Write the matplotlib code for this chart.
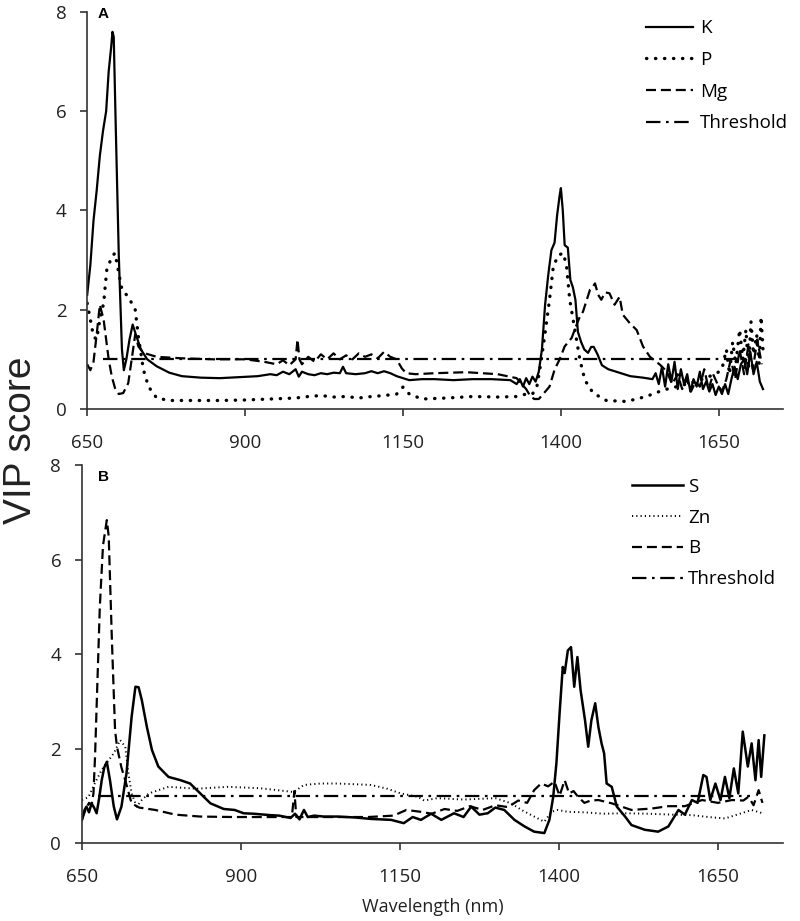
import matplotlib
matplotlib.use('Agg')
import matplotlib.pyplot as plt

# ---- panel A ----
k_wl = [650, 655, 660, 665, 670, 675, 680, 684, 688, 690, 692, 695, 700, 705, 708, 712, 717, 722, 727, 735,
        745, 760, 780, 800, 830, 860, 890, 920, 940, 950, 960, 970, 980, 985, 990, 1000, 1010, 1020, 1030, 1040,
        1050, 1055, 1060, 1075, 1090, 1100, 1110, 1120, 1130, 1140, 1150, 1160, 1180, 1200, 1230, 1260, 1290, 1320, 1330, 1335,
        1340, 1345, 1350, 1355, 1360, 1365, 1370, 1375, 1380, 1385, 1390, 1394, 1398, 1400, 1403, 1406, 1411, 1415, 1419, 1423,
        1427, 1432, 1437, 1443, 1448, 1452, 1458, 1465, 1475, 1490, 1510, 1530, 1545, 1550, 1555, 1560, 1565, 1570, 1575, 1580,
        1585, 1590, 1595, 1600, 1605, 1610, 1615, 1620, 1625, 1630, 1635, 1640, 1645, 1650, 1655, 1660, 1665, 1670, 1675, 1680,
        1685, 1690, 1695, 1700, 1705, 1710, 1715, 1720]
k_vip = [2.3, 2.9, 3.8, 4.4, 5.1, 5.6, 6.0, 6.8, 7.3, 7.6, 7.5, 5.8, 3.1, 1.2, 0.78, 1.0, 1.4, 1.7, 1.5, 1.2,
         1.0, 0.86, 0.73, 0.66, 0.63, 0.62, 0.64, 0.66, 0.7, 0.68, 0.75, 0.7, 0.8, 0.65, 0.75, 0.7, 0.68, 0.72, 0.7, 0.73,
         0.72, 0.85, 0.72, 0.7, 0.72, 0.76, 0.72, 0.76, 0.72, 0.66, 0.62, 0.58, 0.6, 0.6, 0.58, 0.6, 0.6, 0.58, 0.5, 0.6,
         0.45, 0.62, 0.5, 0.65, 0.55, 0.75, 1.2, 2.1, 2.7, 3.2, 3.35, 3.9, 4.3, 4.45, 4.0, 3.3, 3.25, 2.6, 2.45, 2.2,
         1.55, 1.35, 1.2, 1.13, 1.25, 1.25, 1.1, 0.88, 0.8, 0.74, 0.66, 0.63, 0.6, 0.72, 0.5, 0.85, 0.45, 0.9, 0.55, 0.95,
         0.4, 0.8, 0.5, 0.7, 0.35, 0.6, 0.45, 0.75, 0.4, 0.55, 0.35, 0.5, 0.28, 0.45, 0.3, 0.5, 0.3, 0.6, 0.85, 0.6,
         0.9, 1.0, 0.7, 1.15, 0.7, 0.95, 0.55, 0.4]

p_wl = [650, 655, 660, 665, 670, 676, 681, 689, 694, 700, 705, 715, 726, 731, 739, 747, 760, 780, 820, 860,
        900, 940, 980, 1000, 1020, 1040, 1060, 1080, 1100, 1120, 1140, 1150, 1160, 1180, 1220, 1260, 1300, 1330, 1345, 1355,
        1362, 1368, 1375, 1382, 1388, 1396, 1404, 1409, 1414, 1422, 1430, 1438, 1451, 1472, 1504, 1535, 1562, 1593, 1620, 1646,
        1655, 1662, 1667, 1672, 1677, 1683, 1688, 1693, 1697, 1701, 1705, 1710, 1714, 1717, 1720]
p_vip = [2.13, 1.8, 1.46, 1.4, 1.8, 2.13, 2.8, 3.07, 3.14, 2.74, 2.4, 2.26, 2.0, 1.46, 0.79, 0.45, 0.22, 0.17, 0.17, 0.17,
         0.18, 0.2, 0.22, 0.25, 0.27, 0.24, 0.25, 0.22, 0.25, 0.27, 0.3, 0.44, 0.3, 0.2, 0.22, 0.25, 0.24, 0.25, 0.3, 0.3,
         0.45, 0.9, 1.53, 2.2, 2.87, 3.1, 3.14, 2.87, 2.2, 1.6, 1.0, 0.58, 0.32, 0.17, 0.15, 0.25, 0.38, 0.48, 0.58, 0.71,
         0.8, 1.2, 0.7, 1.35, 0.9, 1.6, 1.0, 1.6, 0.8, 1.76, 1.1, 1.5, 0.9, 1.86, 1.2]

mg_wl = [650, 655, 660, 665, 670, 676, 679, 684, 689, 694, 700, 707, 715, 721, 726, 731, 739, 760, 800, 850,
         900, 930, 950, 960, 970, 980, 983, 986, 990, 1000, 1010, 1020, 1030, 1040, 1050, 1060, 1070, 1080, 1090, 1100,
         1110, 1120, 1130, 1140, 1148, 1155, 1170, 1200, 1250, 1300, 1330, 1345, 1352, 1358, 1365, 1372, 1382, 1390, 1398, 1406,
         1417, 1425, 1430, 1435, 1441, 1446, 1450, 1454, 1459, 1464, 1470, 1477, 1485, 1493, 1498, 1509, 1520, 1530, 1541, 1557,
         1568, 1576, 1585, 1592, 1599, 1606, 1613, 1620, 1627, 1634, 1641, 1648, 1655, 1662, 1669, 1676, 1683, 1690, 1697, 1704,
         1711, 1718]
mg_vip = [0.9, 0.78, 0.95, 1.5, 2.1, 1.8, 1.5, 1.0, 0.65, 0.42, 0.3, 0.32, 0.52, 1.05, 1.5, 1.26, 1.13, 1.05, 1.02, 1.0,
          1.0, 0.95, 0.9, 0.98, 0.88, 1.0, 1.4, 1.0, 0.9, 1.05, 0.95, 1.1, 1.0, 1.12, 1.0, 1.08, 1.0, 1.12, 1.05, 1.1,
          1.02, 1.15, 1.05, 1.0, 0.82, 0.72, 0.7, 0.72, 0.74, 0.7, 0.62, 0.4, 0.25, 0.2, 0.2, 0.3, 0.45, 0.79, 1.0, 1.26,
          1.43, 1.7, 1.86, 1.96, 2.2, 2.4, 2.45, 2.53, 2.3, 2.2, 2.35, 2.33, 2.1, 2.26, 1.9, 1.73, 1.59, 1.26, 1.05, 0.89,
          0.75, 0.5, 0.7, 0.4, 0.6, 0.35, 0.55, 0.45, 0.8, 0.4, 0.7, 0.5, 0.35, 0.6, 1.0, 0.6, 1.2, 0.7, 1.3, 0.8,
          1.4, 0.9]

# ---- panel B ----
s_wl = [650, 654, 657, 661, 665, 669, 673, 677, 681, 685, 689, 694, 700, 705, 712, 720, 728, 734, 739, 744,
        752, 760, 770, 786, 805, 820, 836, 852, 873, 890, 904, 920, 946, 960, 978, 985, 992, 999, 1005, 1015,
        1030, 1052, 1080, 1104, 1136, 1156, 1170, 1183, 1199, 1215, 1235, 1250, 1262, 1275, 1288, 1300, 1314, 1330, 1346, 1361,
        1377, 1385, 1391, 1396, 1401, 1406, 1409, 1414, 1419, 1424, 1429, 1434, 1441, 1446, 1451, 1457, 1462, 1467, 1471, 1475,
        1483, 1491, 1504, 1514, 1535, 1556, 1572, 1588, 1598, 1609, 1618, 1627, 1632, 1638, 1646, 1654, 1661, 1668, 1675, 1682,
        1689, 1697, 1703, 1709, 1714, 1718, 1723]
s_vip = [0.49, 0.7, 0.77, 0.65, 0.84, 0.75, 0.63, 0.95, 1.33, 1.6, 1.72, 1.33, 0.77, 0.5, 0.77, 1.48, 2.67, 3.31, 3.3, 3.03,
         2.46, 1.97, 1.62, 1.4, 1.33, 1.26, 1.05, 0.84, 0.72, 0.7, 0.63, 0.62, 0.59, 0.58, 0.53, 0.62, 0.5, 0.7, 0.55, 0.58,
         0.56, 0.56, 0.54, 0.51, 0.49, 0.42, 0.55, 0.49, 0.62, 0.49, 0.63, 0.55, 0.77, 0.6, 0.63, 0.75, 0.7, 0.49, 0.35, 0.24,
         0.21, 0.49, 0.98, 1.69, 2.75, 3.73, 3.6, 4.08, 4.15, 3.31, 3.94, 3.24, 2.6, 2.04, 2.6, 2.96, 2.46, 2.11, 1.9, 1.26,
         1.19, 0.77, 0.56, 0.38, 0.28, 0.24, 0.35, 0.7, 0.6, 0.91, 0.85, 1.44, 1.4, 0.91, 1.26, 0.91, 1.4, 0.95, 1.58, 1.05,
         2.36, 1.62, 2.11, 1.33, 2.18, 1.4, 2.28]

zn_wl = [650, 660, 670, 681, 689, 700, 710, 718, 723, 728, 736, 744, 755, 786, 830, 880, 930, 983, 999, 1025,
         1052, 1104, 1130, 1151, 1178, 1188, 1209, 1250, 1300, 1325, 1341, 1361, 1377, 1388, 1398, 1414, 1440, 1470, 1503, 1540,
         1580, 1609, 1635, 1661, 1680, 1703, 1720]
zn_vip = [0.91, 0.97, 1.26, 1.55, 1.7, 1.9, 2.18, 2.04, 1.48, 1.05, 0.77, 0.91, 1.05, 1.19, 1.15, 1.19, 1.16, 1.08, 1.23, 1.26,
          1.26, 1.23, 1.15, 1.05, 0.98, 0.9, 0.95, 0.92, 0.95, 0.84, 0.7, 0.56, 0.45, 0.66, 0.7, 0.66, 0.65, 0.62, 0.63, 0.62,
          0.6, 0.59, 0.55, 0.52, 0.6, 0.7, 0.63]

b_wl = [650, 656, 661, 665, 668, 670.5, 673, 678, 683, 689, 692, 697, 702, 705, 712, 718, 728, 740, 765, 797,
        836, 888, 940, 980, 984, 987, 990, 1020, 1060, 1100, 1140, 1160, 1183, 1200, 1220, 1240, 1260, 1280, 1300, 1320,
        1336, 1350, 1361, 1372, 1383, 1393, 1401, 1409, 1416, 1423, 1430, 1440, 1450, 1462, 1483, 1514, 1546, 1572, 1598, 1625,
        1650, 1672, 1690, 1698, 1706, 1714, 1720]
b_vip = [0.5, 0.72, 0.85, 0.8, 1.05, 1.83, 2.89, 5.0, 6.3, 6.84, 6.5, 4.3, 2.39, 2.04, 1.6, 1.33, 0.84, 0.75, 0.7, 0.6,
         0.56, 0.55, 0.55, 0.55, 1.1, 0.55, 0.55, 0.55, 0.55, 0.55, 0.58, 0.7, 0.66, 0.62, 0.72, 0.68, 0.78, 0.7, 0.8, 0.76,
         0.9, 0.85, 1.12, 1.26, 1.2, 1.3, 1.0, 1.33, 1.05, 1.1, 0.98, 0.85, 0.9, 0.91, 0.84, 0.7, 0.73, 0.78, 0.78, 0.91,
         0.85, 0.91, 0.9, 0.98, 0.8, 1.12, 0.85]

thr_wl = [675, 1700]
thr_vip = [1, 1]

xticks = [650, 900, 1150, 1400, 1650]
yticks = [0, 2, 4, 6, 8]

plt.rcParams['font.family'] = ['Open Sans', 'DejaVu Sans']

dotted_big = (0, (0.1, 2.6))
dotted_small = (0, (0.6, 1.6))
dashed = (0, (4.5, 2.2))
dashdot = (0, (6.5, 2.5, 1.2, 2.5))


def style(ax):
    ax.set_xlim(650, 1752)
    ax.set_ylim(0, 8)
    ax.set_xticks(xticks)
    ax.set_yticks(yticks)
    ax.spines['top'].set_visible(False)
    ax.spines['right'].set_visible(False)
    for s in ['left', 'bottom']:
        ax.spines[s].set_color('#333333')
        ax.spines[s].set_linewidth(1.2)
    ax.tick_params(direction='out', length=5, width=1.2, color='#333333',
                   labelsize=13.5, labelcolor='#222222')
    ax.tick_params(axis='x', pad=13)
    ax.tick_params(axis='y', pad=10)


fig = plt.figure(figsize=(8, 9.21), dpi=100)

ax1 = fig.add_axes([0.109, 0.556, 0.870, 0.431])
ax1.plot(k_wl, k_vip, color='black', lw=1.6, label='K')
ax1.plot(p_wl, p_vip, color='black', lw=2.4, linestyle=dotted_big, dash_capstyle='round', label='P')
ax1.plot(mg_wl, mg_vip, color='black', lw=1.6, linestyle=dashed, label='Mg')
ax1.plot(thr_wl, thr_vip, color='black', lw=1.6, linestyle=dashdot, label='Threshold')
style(ax1)
ax1.legend(loc='upper left', bbox_to_anchor=(0.808, 0.979), bbox_transform=fig.transFigure,
           frameon=False, fontsize=13.5, handlelength=2.5, handletextpad=0.35,
           labelspacing=0.73, borderpad=0, borderaxespad=0)

ax2 = fig.add_axes([0.1025, 0.0847, 0.876, 0.410])
ax2.plot(s_wl, s_vip, color='black', lw=1.8, label='S')
ax2.plot(zn_wl, zn_vip, color='black', lw=1.4, linestyle=dotted_small, label='Zn')
ax2.plot(b_wl, b_vip, color='black', lw=1.6, linestyle=dashed, label='B')
ax2.plot(thr_wl, thr_vip, color='black', lw=1.6, linestyle=dashdot, label='Threshold')
style(ax2)
ax2.set_xlabel('Wavelength (nm)', fontsize=13, color='#222222', labelpad=9)
ax2.legend(loc='upper left', bbox_to_anchor=(0.79, 0.481), bbox_transform=fig.transFigure,
           frameon=False, fontsize=13.5, handlelength=2.7, handletextpad=0.3,
           labelspacing=0.68, borderpad=0, borderaxespad=0)

fig.text(0.129, 0.985, 'A', fontsize=11, fontweight='bold', family='Liberation Sans', ha='center', va='center')
fig.text(0.129, 0.482, 'B', fontsize=11, fontweight='bold', family='Liberation Sans', ha='center', va='center')
fig.text(0.026, 1 - 440 / 921, 'VIP score', fontsize=28, family='Liberation Sans', color='#222222',
         rotation=90, ha='center', va='center')

fig.savefig('out.png', dpi=100)
